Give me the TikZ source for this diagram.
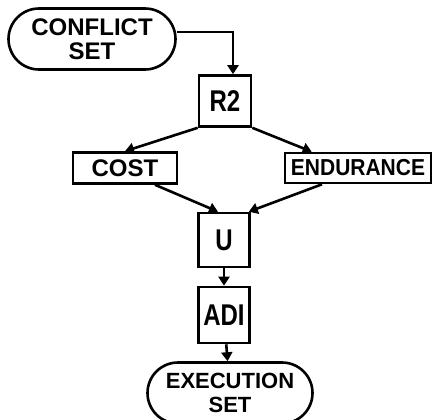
\documentclass[tikz,border=0pt]{standalone}
\usepackage{fontspec}
\setmainfont{Liberation Sans}
\usetikzlibrary{positioning}
\usetikzlibrary{arrows.meta,shapes}
\newcommand{\tallword}[1]{\scalebox{1}[1.25]{#1}}

\begin{document}
\begin{tikzpicture}[x=1pt,y=-1pt,
  box/.style={draw,line width=2.6pt,inner sep=0pt,font=\bfseries\fontsize{24}{26}\selectfont},
  setnode/.style={draw,line width=2.6pt,rounded rectangle,inner sep=0pt,minimum width=167pt,minimum height=61pt,align=center,font=\bfseries\fontsize{24}{24}\selectfont},
  link/.style={line width=2.6pt,-{Triangle[length=9pt,width=11pt]}}]
\useasboundingbox (0,0) rectangle (435,419);
\node[setnode] (conflict) at (92,39) {CONFLICT\\SET};
\node[box,minimum width=52pt,minimum height=51pt] (r2) at (225,101) {\tallword{R2}};
\node[box,minimum width=104pt,minimum height=31pt] (cost) at (125,168) {COST};
\node[box,minimum width=146pt,minimum height=30pt,font=\bfseries\fontsize{21}{24}\selectfont] (endurance) at (358,168) {\scalebox{1}[1.1]{ENDURANCE}};
\node[box,minimum width=51pt,minimum height=54pt] (u) at (224,240) {\tallword{U}};
\node[box,minimum width=51pt,minimum height=56pt] (adi) at (224,315) {\tallword{ADI}};
\node[setnode,minimum width=165pt,font=\bfseries\fontsize{22}{24}\selectfont] (execution) at (230,393) {EXECUTION\\SET};
% connectors
\draw[link] ([yshift=7pt]conflict.east) -| ([xshift=8pt]r2.north);
\draw[link] (r2.south west) -- (cost.north);
\draw[link] (r2.south east) -- ([xshift=28pt]endurance.north west);
\draw[link] ([xshift=30pt]cost.south) -- ([xshift=-6pt]u.north);
\draw[link] ([xshift=-36pt]endurance.south) -- ([xshift=-2pt]u.north east);
\draw[link] (u) -- (adi);
\draw[link] (adi) -- (execution);
\end{tikzpicture}
\end{document}
